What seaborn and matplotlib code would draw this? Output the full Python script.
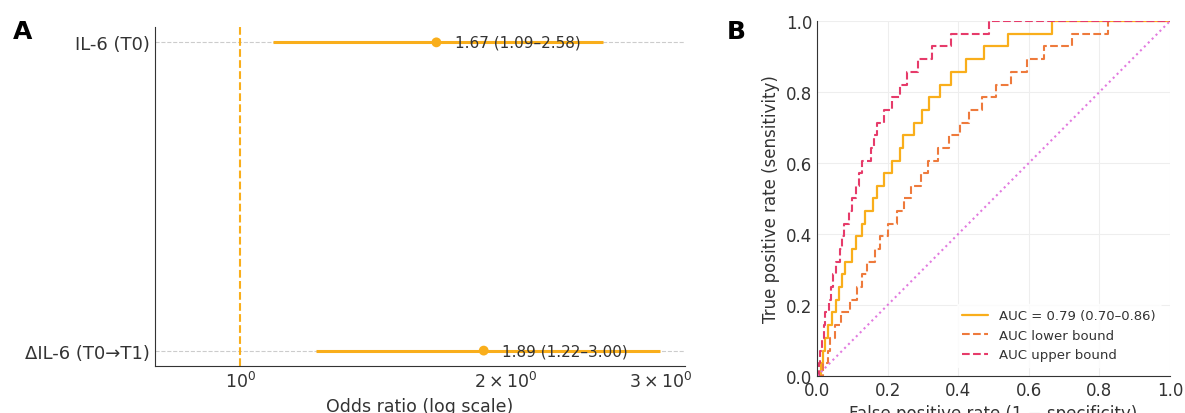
import matplotlib
matplotlib.use("Agg")
from matplotlib import pyplot as plt
import pandas as pd
import seaborn as sns

# panel A: odds ratios
markers = ["IL-6 (T0)", "ΔIL-6 (T0→T1)"]
odds = [1.67, 1.89]
ci_low = [1.09, 1.22]
ci_high = [2.58, 3.00]

# panel B: ROC step curves (fpr where tpr jumps, tpr after jump)
fpr_main = [0.0, 0.01, 0.016, 0.022, 0.031, 0.042, 0.054, 0.063, 0.071, 0.08, 0.099, 0.11, 0.126, 0.137,
            0.158, 0.169, 0.19, 0.211, 0.234, 0.243, 0.274, 0.296, 0.318, 0.348, 0.38, 0.422, 0.472,
            0.54, 0.666, 1.0]
tpr_main = [0.0, 0.036, 0.071, 0.107, 0.143, 0.179, 0.214, 0.25, 0.286, 0.321, 0.357, 0.393, 0.429, 0.464,
            0.5, 0.536, 0.571, 0.607, 0.643, 0.679, 0.714, 0.75, 0.786, 0.821, 0.857, 0.893, 0.929,
            0.964, 1.0, 1.0]
fpr_low = [0.0, 0.018, 0.03, 0.038, 0.05, 0.068, 0.08, 0.094, 0.113, 0.127, 0.142, 0.164, 0.178, 0.2,
           0.226, 0.247, 0.266, 0.294, 0.315, 0.343, 0.373, 0.405, 0.431, 0.467, 0.508, 0.55, 0.594,
           0.644, 0.721, 0.824, 1.0]
tpr_low = [0.0, 0.036, 0.071, 0.107, 0.143, 0.179, 0.179, 0.214, 0.25, 0.286, 0.321, 0.357, 0.393, 0.429,
           0.464, 0.5, 0.536, 0.571, 0.607, 0.643, 0.679, 0.714, 0.75, 0.786, 0.821, 0.857, 0.893,
           0.929, 0.964, 1.0, 1.0]
fpr_up = [0.0, 0.005, 0.008, 0.015, 0.02, 0.023, 0.034, 0.04, 0.045, 0.055, 0.066, 0.07, 0.077, 0.09,
          0.098, 0.11, 0.12, 0.127, 0.153, 0.162, 0.17, 0.19, 0.213, 0.234, 0.254, 0.285, 0.327,
          0.379, 0.487, 1.0]
tpr_up = [0.0, 0.036, 0.071, 0.107, 0.143, 0.179, 0.214, 0.25, 0.286, 0.321, 0.357, 0.393, 0.429, 0.464,
          0.5, 0.536, 0.571, 0.607, 0.643, 0.679, 0.714, 0.75, 0.786, 0.821, 0.857, 0.893, 0.929,
          0.964, 1.0, 1.0]
chance = [0.0, 1.0]

auc_label = "AUC = 0.79 (0.70–0.86)"

c_main = "#F9AE1B"
c_low = "#EE7A3C"
c_up = "#E63B6A"
c_diag = "#E27ADF"
ink = "#333333"

sns.set_style("white")
plt.rcParams.update({
    "font.family": ["DejaVu Sans"],
    "text.color": ink, "axes.labelcolor": ink,
    "xtick.color": ink, "ytick.color": ink,
    "axes.edgecolor": ink,
    "xtick.direction": "in", "ytick.direction": "in",
})

fig = plt.figure(figsize=(11.85, 4.14), dpi=100)

# ---- A: forest plot
axA = fig.add_axes([0.1308, 0.1135, 0.4473, 0.819])
df_or = pd.DataFrame({"marker": markers, "OR": odds, "lo": ci_low, "hi": ci_high})
axA.set_xscale("log")
axA.hlines(df_or["marker"], df_or["lo"], df_or["hi"], color=c_main, lw=2.2, zorder=2)
sns.scatterplot(data=df_or, x="OR", y="marker", color=c_main, s=50, edgecolor="none", ax=axA, zorder=3)
axA.axvline(1, color=c_main, ls="--", lw=1.5, zorder=1)
for _, r in df_or.iterrows():
    axA.text(r["OR"] * 1.05, r["marker"], f"{r['OR']:.2f} ({r['lo']:.2f}–{r['hi']:.2f})",
             va="center", ha="left", fontsize=11, color=ink, zorder=4)
axA.set_xlim(0.8, 3.2)
axA.set_ylim(1.05, -0.05)
axA.grid(axis="y", ls="--", color="#cccccc", lw=0.8)
axA.set_axisbelow(True)
axA.set_xlabel("Odds ratio (log scale)", fontsize=12.5)
axA.set_ylabel("")
axA.tick_params(axis="both", which="both", length=3)
axA.tick_params(axis="x", which="both", labelsize=12.5)
axA.tick_params(axis="y", labelsize=13)
sns.despine(ax=axA)
fig.text(0.011, 0.905, "A", fontsize=18, fontweight="bold", color="black")

# ---- B: ROC curves
axB = fig.add_axes([0.6895, 0.0894, 0.2979, 0.8575])
sns.lineplot(x=fpr_main, y=tpr_main, sort=False, estimator=None, drawstyle="steps-post",
             color=c_main, lw=1.6, label=auc_label, ax=axB)
sns.lineplot(x=fpr_low, y=tpr_low, sort=False, estimator=None, drawstyle="steps-post",
             color=c_low, lw=1.5, linestyle="--", label="AUC lower bound", ax=axB)
sns.lineplot(x=fpr_up, y=tpr_up, sort=False, estimator=None, drawstyle="steps-post",
             color=c_up, lw=1.5, linestyle="--", label="AUC upper bound", ax=axB)
sns.lineplot(x=chance, y=chance, color=c_diag, lw=1.5, linestyle=":", ax=axB)
axB.set_xlim(0, 1)
axB.set_ylim(0, 1)
axB.grid(True, color="#eeeeee", lw=0.8)
axB.set_xlabel("False positive rate (1 − specificity)", fontsize=12)
axB.set_ylabel("True positive rate (sensitivity)", fontsize=12)
axB.tick_params(axis="both", labelsize=12, length=3)
axB.legend(loc="lower right", fontsize=9.5, frameon=True, edgecolor="white", framealpha=0.8,
           borderaxespad=0.7)
sns.despine(ax=axB)
fig.text(0.613, 0.905, "B", fontsize=18, fontweight="bold", color="black")

fig.savefig("out.png", dpi=100)
